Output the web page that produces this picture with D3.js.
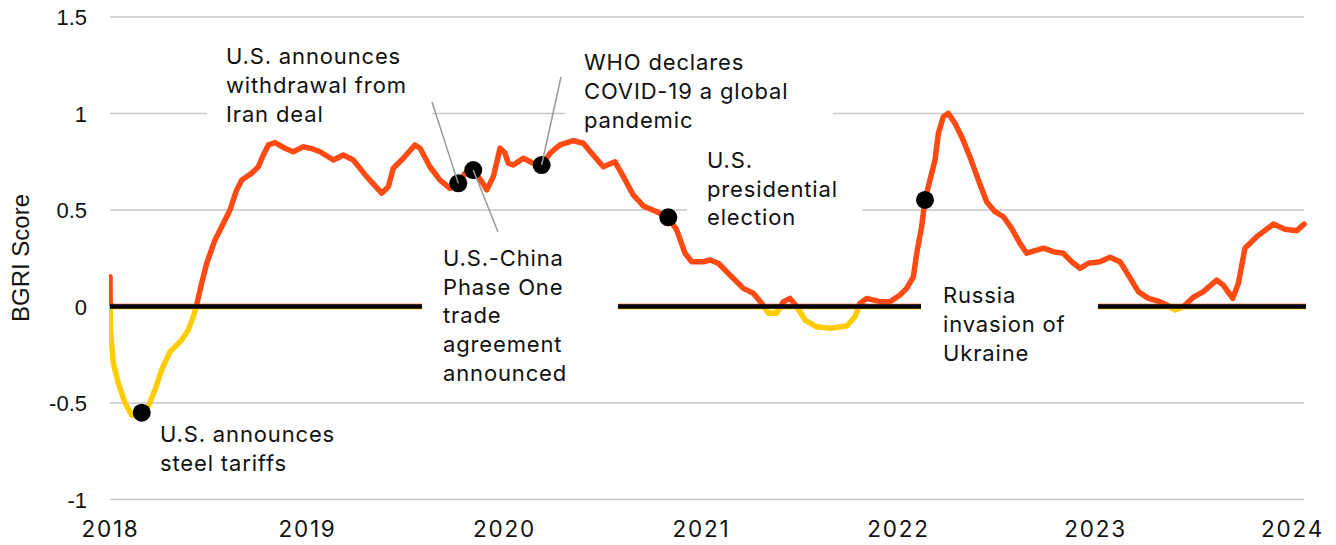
<!DOCTYPE html>
<html><head><meta charset="utf-8">
<script src="https://cdn.jsdelivr.net/npm/d3@7"></script>
<style>
html,body{margin:0;padding:0;background:#fff;}
svg{display:block;}
</style></head><body>
<svg id="chart" width="1336" height="545"></svg>
<script>
// ---------- DATA ----------
const years = [2018.000,2018.002,2018.017,2018.042,2018.076,2018.110,2018.144,2018.161,2018.194,2018.228,2018.262,2018.305,2018.364,2018.397,2018.423,2018.440,2018.465,2018.491,2018.533,2018.567,2018.609,2018.643,2018.669,2018.719,2018.753,2018.778,2018.804,2018.838,2018.888,2018.930,2018.981,2019.032,2019.066,2019.134,2019.184,2019.235,2019.303,2019.379,2019.413,2019.438,2019.489,2019.548,2019.574,2019.624,2019.675,2019.726,2019.768,2019.802,2019.844,2019.887,2019.912,2019.946,2019.980,2020.005,2020.022,2020.047,2020.098,2020.149,2020.191,2020.234,2020.284,2020.352,2020.403,2020.445,2020.504,2020.563,2020.597,2020.656,2020.707,2020.775,2020.834,2020.877,2020.919,2020.953,2021.012,2021.046,2021.088,2021.147,2021.215,2021.266,2021.308,2021.342,2021.384,2021.418,2021.452,2021.486,2021.528,2021.587,2021.655,2021.740,2021.782,2021.807,2021.841,2021.909,2021.959,2022.010,2022.044,2022.078,2022.095,2022.120,2022.137,2022.162,2022.188,2022.205,2022.230,2022.255,2022.289,2022.323,2022.365,2022.408,2022.450,2022.492,2022.535,2022.577,2022.619,2022.653,2022.738,2022.788,2022.839,2022.882,2022.924,2022.966,2023.025,2023.076,2023.127,2023.169,2023.220,2023.271,2023.321,2023.364,2023.406,2023.448,2023.499,2023.550,2023.618,2023.651,2023.699,2023.728,2023.761,2023.821,2023.905,2023.964,2024.024,2024.061];
const scores = [0.154,-0.122,-0.293,-0.396,-0.500,-0.562,-0.571,-0.550,-0.519,-0.433,-0.329,-0.234,-0.174,-0.122,-0.053,0.008,0.120,0.224,0.345,0.413,0.500,0.604,0.655,0.690,0.724,0.785,0.837,0.849,0.820,0.802,0.828,0.815,0.802,0.759,0.785,0.759,0.673,0.587,0.621,0.716,0.768,0.837,0.820,0.724,0.655,0.612,0.638,0.690,0.707,0.647,0.604,0.673,0.820,0.795,0.742,0.733,0.768,0.742,0.733,0.794,0.837,0.859,0.846,0.794,0.724,0.750,0.690,0.578,0.521,0.491,0.462,0.396,0.276,0.232,0.232,0.241,0.224,0.163,0.094,0.068,0.017,-0.035,-0.035,0.025,0.042,-0.001,-0.070,-0.105,-0.113,-0.101,-0.053,0.017,0.042,0.025,0.025,0.060,0.094,0.154,0.276,0.413,0.552,0.655,0.759,0.897,0.983,1.001,0.949,0.880,0.776,0.655,0.543,0.491,0.465,0.405,0.327,0.276,0.302,0.284,0.276,0.232,0.198,0.224,0.232,0.255,0.232,0.163,0.077,0.042,0.028,0.008,-0.018,-0.001,0.048,0.077,0.137,0.111,0.042,0.120,0.302,0.362,0.427,0.400,0.393,0.427];

const yTicks = [-1, -0.5, 0, 0.5, 1, 1.5];
const yTickLabels = ["-1", "-0.5", "0", "0.5", "1", "1.5"];
const xTicks = [2018, 2019, 2020, 2021, 2022, 2023, 2024];
const xTickLabels = ["2018", "2019", "2020", "2021", "2022", "2023", "2024"];

const eventYears  = [2018.161, 2019.768, 2019.844, 2020.191, 2020.834, 2022.137];
const eventScores = [-0.550, 0.638, 0.707, 0.733, 0.462, 0.552];
const eventLabels = [
  ["U.S. announces", "steel tariffs"],
  ["U.S. announces", "withdrawal from", "Iran deal"],
  ["U.S.-China", "Phase One", "trade", "agreement", "announced"],
  ["WHO declares", "COVID-19 a global", "pandemic"],
  ["U.S.", "presidential", "election"],
  ["Russia", "invasion of", "Ukraine"]
];
const yTitle = "BGRI Score";

// ---------- LAYOUT ----------
const layout = [
  {tx:160, ty:441.7, gap:null, leader:null},
  {tx:226, ty:64,    gap:{v:1,   x0:207, x1:432}, leader:[432,102]},
  {tx:443, ty:265.7, gap:{v:0,   x0:422, x1:618}, leader:[498,232]},
  {tx:584, ty:70,    gap:{v:1,   x0:565, x1:833}, leader:[561,77]},
  {tx:707, ty:167.7, gap:{v:0.5, x0:687, x1:862}, leader:null},
  {tx:943, ty:303.3, gap:{v:0,   x0:921, x1:1098}, leader:null}
];
const lineH = 28.8;
const annFont = "Inter, 'Noto Sans', sans-serif";
const axFont = "'Liberation Sans', Arial, sans-serif";
const ORANGE = "#ff4a14", YELLOW = "#ffcc00";

const svg = d3.select("#chart");
const x = d3.scaleLinear().domain([2018, 2024]).range([110, 1292]);
const y = d3.scaleLinear().domain([-1, 1.5]).range([499.5, 17]);
const gridL = 110, gridR = 1304, zeroR = 1306;

function segments(v, x0, x1) {
  const gaps = layout.filter(d => d.gap && d.gap.v === v).map(d => d.gap).sort((a,b)=>a.x0-b.x0);
  const segs = []; let cur = x0;
  gaps.forEach(g => { segs.push([cur, g.x0]); cur = g.x1; });
  segs.push([cur, x1]);
  return segs;
}

// gridlines
const grid = svg.append("g");
yTicks.filter(v => v !== 0).forEach(v => {
  segments(v, gridL, gridR).forEach(s => {
    grid.append("line").attr("x1", s[0]).attr("x2", s[1])
      .attr("y1", y(v)).attr("y2", y(v))
      .attr("stroke", "#c6c6c6").attr("stroke-width", 1.6);
  });
});

// y axis labels
const yAxis = d3.axisLeft(y).tickValues(yTicks).tickFormat((d,i) => yTickLabels[i]).tickSize(0).tickPadding(0);
const gy = svg.append("g").attr("transform", "translate(87,0)").call(yAxis);
gy.select(".domain").remove();
gy.selectAll("text").attr("font-family", axFont).attr("font-size", 22).attr("fill", "#111").attr("dy", "0.36em");

// x axis labels
const xAxis = d3.axisBottom(x).tickValues(xTicks).tickFormat((d,i) => xTickLabels[i]).tickSize(0).tickPadding(0);
const gx = svg.append("g").attr("transform", "translate(0,537)").call(xAxis);
gx.select(".domain").remove();
gx.selectAll("text").attr("font-family", annFont).attr("font-size", 22.5).attr("fill", "#111")
  .attr("dy", 0).attr("letter-spacing", "1.8px");

// y title
svg.append("text").attr("transform", "translate(29,258) rotate(-90)")
  .attr("text-anchor", "middle").attr("font-family", axFont).attr("font-size", 24)
  .attr("fill", "#111").text(yTitle);

// clip paths
const defs = svg.append("defs");
defs.append("clipPath").attr("id", "above").append("rect")
  .attr("x", 109).attr("y", 0).attr("width", 1336).attr("height", y(0));
defs.append("clipPath").attr("id", "below").append("rect")
  .attr("x", 109).attr("y", y(0)).attr("width", 1336).attr("height", 545 - y(0));

const data = years.map((yr, i) => ({yr, v: scores[i]}));
const line = d3.line().x(d => x(d.yr)).y(d => y(d.v));
[["above", ORANGE], ["below", YELLOW]].forEach(([clip, col]) => {
  svg.append("path").datum(data).attr("clip-path", `url(#${clip})`)
    .attr("d", line).attr("fill", "none").attr("stroke", col)
    .attr("stroke-width", 5.5).attr("stroke-linejoin", "round").attr("stroke-linecap", "round");
});

// zero line with fringe
segments(0, gridL, zeroR).forEach(s => {
  svg.append("line").attr("x1", s[0]).attr("x2", s[1]).attr("y1", y(0) - 1).attr("y2", y(0) - 1)
    .attr("stroke", ORANGE).attr("stroke-width", 4).attr("opacity", 0.6);
  svg.append("line").attr("x1", s[0]).attr("x2", s[1]).attr("y1", y(0) + 1).attr("y2", y(0) + 1)
    .attr("stroke", YELLOW).attr("stroke-width", 4).attr("opacity", 0.8);
  svg.append("line").attr("x1", s[0]).attr("x2", s[1]).attr("y1", y(0)).attr("y2", y(0))
    .attr("stroke", "#000").attr("stroke-width", 4.5);
});

// dots
eventYears.forEach((yr, i) => {
  svg.append("circle").attr("cx", x(yr)).attr("cy", y(eventScores[i])).attr("r", 9).attr("fill", "#000");
});

// leader lines
layout.forEach((L, i) => {
  if (!L.leader) return;
  svg.append("line").attr("x1", L.leader[0]).attr("y1", L.leader[1])
    .attr("x2", x(eventYears[i])).attr("y2", y(eventScores[i]))
    .attr("stroke", "#9a9a9a").attr("stroke-width", 1.5);
});

// annotation text
layout.forEach((L, i) => {
  const t = svg.append("text").attr("font-family", annFont).attr("font-size", 22)
    .attr("letter-spacing", "0.85px").attr("fill", "#111");
  eventLabels[i].forEach((ln, j) => {
    t.append("tspan").attr("x", L.tx).attr("y", L.ty + j * lineH).text(ln);
  });
});
</script>
</body></html>
